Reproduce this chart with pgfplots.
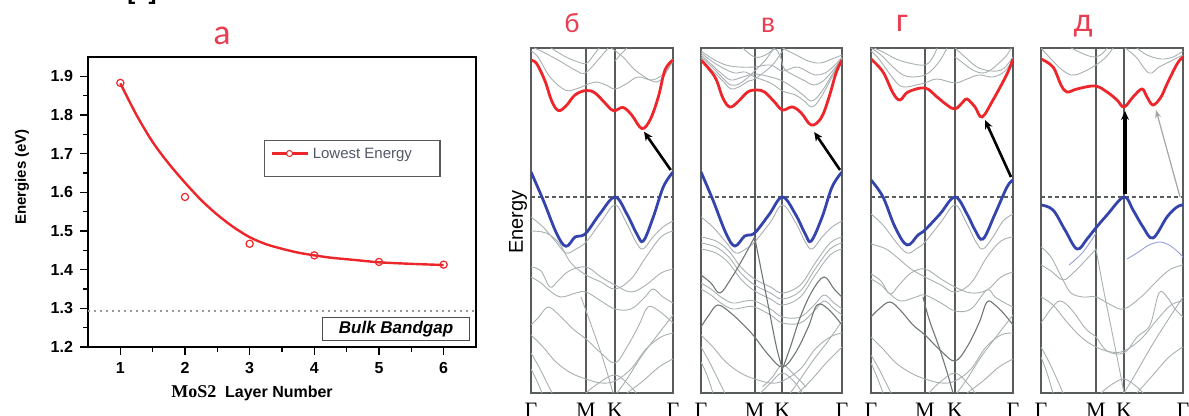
\documentclass[border=0pt]{standalone}
\usepackage{fontspec}
\setmainfont{Liberation Sans}
\newfontfamily\serif{Liberation Serif}
\newfontfamily\carl{Carlito}
\usepackage{pgfplots}
\pgfplotsset{compat=1.18}
\usetikzlibrary{arrows.meta}

\definecolor{cbred}{RGB}{236,38,42}
\definecolor{vbblue}{RGB}{52,68,172}
\definecolor{frame}{RGB}{88,92,92}
\definecolor{gcol}{RGB}{168,176,178}
\definecolor{gdark}{RGB}{112,118,118}
\definecolor{ttl}{RGB}{232,62,82}
\definecolor{lblue}{RGB}{150,160,215}
\definecolor{legtxt}{RGB}{82,88,104}

\pgfplotsset{
  bandaxis/.style={scale only axis, width=71pt, height=172.5pt,
    xmin=0, xmax=142, ymin=-196, ymax=149,
    axis line style={draw=frame, line width=1pt},
    ytick=\empty, major tick length=0pt,
    xmajorgrids, grid style={draw=frame, line width=1pt},
    xticklabels={Γ,M,K,Γ},
    xticklabel style={font=\serif\fontsize{11}{11}\selectfont, yshift=-1.5pt}},
  gl/.style={draw=gcol, line width=0.45pt, smooth, tension=0.6},
  gd/.style={draw=gdark, line width=0.55pt, smooth, tension=0.6},
  cb/.style={draw=cbred, line width=1.4pt, smooth, tension=0.6},
  vb/.style={draw=vbblue, line width=1.4pt, smooth, tension=0.6},
  ef/.style={draw=frame, line width=0.8pt, dash pattern=on 2pt off 1.5pt},
}
\tikzset{trans/.style={draw=black, line width=1.3pt, -{Stealth[length=4.5pt,width=4pt]}}}

\begin{document}
\begin{tikzpicture}
\useasboundingbox (0,0) rectangle (594.5pt,208pt);
\node[anchor=base, font=\bfseries\fontsize{12}{12}\selectfont, inner sep=0pt] at (71pt,208pt) {[6]};

% ---------------- panel a ----------------
\begin{axis}[at={(44pt,34.5pt)}, anchor=south west,
  scale only axis, width=194pt, height=145pt,
  xmin=0.5, xmax=6.5, ymin=1.2, ymax=1.95,
  xtick={1,2,3,4,5,6}, ytick={1.2,1.3,...,1.9},
  minor tick num=1,
  axis line style={line width=1.2pt},
  tick style={line width=0.8pt, black},
  major tick length=4pt, minor tick length=2.5pt,
  tick align=outside, xtick pos=bottom, ytick pos=left,
  ticklabel style={font=\bfseries\fontsize{8}{8}\selectfont},
  /pgf/number format/assume math mode=true,
  yticklabel style={/pgf/number format/fixed, /pgf/number format/precision=1, /pgf/number format/fixed zerofill},
  legend style={at={(0.453,0.714)}, anchor=north west, draw=gray!70!black, line width=0.6pt,
    font=\fontsize{7.5}{8}\selectfont, text=legtxt, inner xsep=3pt, inner ysep=2pt,
    nodes={text depth=5pt}},
  legend cell align=left,
]
\addplot[draw=cbred, line width=1.2pt, smooth, forget plot] coordinates {
  (1,1.882) (1.25,1.800) (1.5,1.730) (1.75,1.674) (2,1.625) (2.25,1.580) (2.5,1.542)
  (2.75,1.510) (3,1.484) (3.25,1.466) (3.5,1.454) (3.75,1.444) (4,1.437) (4.25,1.431)
  (4.5,1.427) (4.75,1.423) (5,1.419) (5.5,1.415) (6,1.412)
};
\addplot[draw=cbred, only marks, mark=o, mark size=1.8pt, mark options={line width=0.6pt, fill=white},
  legend image code/.code={\draw[cbred, line width=1.2pt] (0pt,2.6pt) -- (18pt,2.6pt);
    \draw[cbred, line width=0.5pt, fill=white] (9pt,2.6pt) circle (1.5pt);}] coordinates {
  (1,1.883) (2,1.588) (3,1.467) (4,1.437) (5,1.420) (6,1.413)
};
\addlegendentry{Lowest Energy\rule{9pt}{0pt}}
\addplot[draw=gray!80, line width=0.8pt, dash pattern=on 1.2pt off 1.8pt, forget plot]
  coordinates {(0.5,1.293) (6.5,1.293)};
\node[draw=gray!60!black, line width=0.6pt, anchor=south east, minimum width=73.5pt,
  minimum height=11.5pt, inner sep=0pt, font=\bfseries\itshape\fontsize{8.5}{9}\selectfont]
  at (rel axis cs:0.985,0.021) {Bulk Bandgap};
\end{axis}
\node[rotate=90, font=\bfseries\fontsize{7.5}{8}\selectfont] at (11pt,119.5pt) {Energies (eV)};
\node[font=\bfseries\fontsize{8}{9}\selectfont] at (126pt,11.5pt) {{\serif\fontsize{9}{9}\selectfont MoS2}\ \ Layer Number};

% ---------------- panel б ----------------
\begin{axis}[bandaxis, at={(265.5pt,11.5pt)}, anchor=south west, xtick={0,55,84,142}]
\addplot[gl] coordinates {(0,146) (7,140) (19,120) (34,107) (45,108) (55,112) (65,115) (75,112) (84,108) (95,113) (107,120) (121,117) (134,124) (142,136)};
\addplot[gl] coordinates {(3,149) (10,146) (27,137) (44,127) (54,124) (67,137) (77,149)};
\addplot[gl] coordinates {(80,149) (92,140) (104,127) (121,116) (130,117) (137,128) (142,138)};
\addplot[gl] coordinates {(84,136) (90,143) (96,149)};
\addplot[gl] coordinates {(20,149) (35,140) (50,134) (56,134) (62,141) (68,149)};
\addplot[gl] coordinates {(0,-20) (12,-30) (25,-45) (35,-56) (45,-52) (55,-45) (70,-25) (84,-8) (95,-25) (105,-45) (112,-52) (122,-40) (132,-30) (142,-24)};
\addplot[gl] coordinates {(0,-34) (15,-36) (28,-46) (40,-66) (55,-78) (70,-85) (84,-92) (100,-82) (115,-60) (130,-40) (142,-34)};
\addplot[gl] coordinates {(0,-70) (10,-74) (19,-90) (27,-84) (38,-74) (55,-70) (70,-80) (84,-88) (100,-95) (115,-88) (130,-76) (142,-72)};
\addplot[gl] coordinates {(0,-80) (10,-86) (19,-94) (30,-100) (45,-96) (55,-95) (70,-104) (84,-112) (100,-112) (114,-100) (122,-92) (132,-100) (142,-106)};
\addplot[gl] coordinates {(0,-128) (8,-120) (17,-110) (28,-118) (42,-132) (55,-142) (70,-156) (84,-166) (96,-150) (108,-128) (117,-110) (128,-114) (142,-126)};
\addplot[gl] coordinates {(0,-138) (12,-150) (25,-165) (40,-176) (55,-182) (70,-186) (84,-184) (100,-172) (115,-152) (130,-140) (142,-136)};
\addplot[gl] coordinates {(0,-156) (8,-170) (16,-186) (21,-196)};
\addplot[gl] coordinates {(50,-100) (58,-122) (68,-150) (76,-175) (82,-196)};
\addplot[gl] coordinates {(86,-196) (96,-182) (110,-160) (125,-140) (142,-118)};
\addplot[gl] coordinates {(0,-172) (5,-182) (11,-196)};
\addplot[gl] coordinates {(96,-196) (112,-184) (128,-170) (142,-162)};
\addplot[gl] coordinates {(55,-196) (65,-188) (84,-178) (100,-190) (105,-196)};
\addplot[ef] coordinates {(0,0) (142,0)};
\addplot[cb] coordinates {(0,136.7) (5.7,133.3) (14,116) (20.7,96) (27.3,86.5) (35,91) (44,102) (55,106.5) (64,104) (74,94) (82.5,86.3) (92,89.5) (100.7,82) (110.7,68.5) (119,77) (127.3,100) (134,127) (142,137)};
\addplot[vb] coordinates {(0,25) (12.3,-3.3) (25.7,-36.7) (35,-49.3) (44,-40) (50,-39) (56,-35) (69,-16.7) (84,0) (95.7,-16.7) (105.7,-36.7) (112.3,-44) (122.3,-20) (132.3,10) (142,25)};
\draw[trans] (axis cs:139.7,27) -- (axis cs:113,65.3);
\end{axis}
\node[rotate=90, font=\fontsize{10}{10}\selectfont] at (259pt,97pt) {Energy};

% ---------------- panel в ----------------
\begin{axis}[bandaxis, at={(350.5pt,11.5pt)}, anchor=south west, width=70.5pt, xtick={0,54,82,142}]
\addplot[gl] coordinates {(0,140) (10,131) (20,121) (30,112) (40,114) (54,126) (65,137) (74,148) (80,140) (84,128) (95,121) (105,116) (113,112) (123,116) (134,128) (142,139)};
\addplot[gl] coordinates {(0,142) (10,133) (20,124) (30,117) (42,120) (54,123) (70,120) (82,116) (95,108) (104,101) (112,96) (122,106) (133,124) (142,139)};
\addplot[gl] coordinates {(0,144) (12,135) (24,128) (34,124) (45,125) (54,120) (70,114) (82,106) (95,102) (104,96) (112,90) (121,100) (133,122) (142,138)};
\addplot[gl] coordinates {(0,146) (12,138) (25,132) (38,130) (54,130) (70,132) (82,126) (96,130) (106,126) (115,122) (125,124) (135,132) (142,140)};
\addplot[gl] coordinates {(42,149) (54,140) (65,142) (74,149)};
\addplot[gl] coordinates {(82,149) (96,142) (108,136) (120,134) (132,138) (142,142)};
\addplot[gl] coordinates {(0,138) (8,130) (16,122) (24,114) (30,108) (38,110) (48,116) (54,118) (70,130) (78,140) (84,149)};
\addplot[gl] coordinates {(0,-20) (12,-30) (25,-45) (35,-56) (45,-52) (54,-45) (70,-25) (82,-8) (95,-25) (105,-45) (112,-52) (122,-40) (132,-30) (142,-24)};
\addplot[gl] coordinates {(0,-40) (15,-44) (28,-54) (40,-70) (54,-82) (70,-90) (82,-96) (100,-88) (115,-66) (130,-46) (142,-40)};
\addplot[gl] coordinates {(0,-46) (15,-50) (28,-60) (40,-76) (54,-88) (70,-96) (82,-102) (100,-94) (115,-72) (130,-52) (142,-46)};
\addplot[gl] coordinates {(0,-52) (15,-56) (28,-66) (40,-82) (54,-94) (70,-102) (82,-108) (100,-100) (115,-78) (130,-58) (142,-52)};
\addplot[gl] coordinates {(0,-86) (10,-92) (20,-100) (32,-106) (45,-104) (54,-104) (70,-112) (82,-120) (100,-120) (114,-108) (124,-98) (134,-106) (142,-112)};
\addplot[gl] coordinates {(0,-92) (10,-98) (20,-106) (32,-112) (45,-110) (54,-110) (70,-118) (82,-126) (100,-126) (114,-114) (124,-104) (134,-112) (142,-118)};
\addplot[gl] coordinates {(0,-138) (12,-150) (25,-165) (40,-176) (54,-182) (70,-186) (82,-184) (100,-172) (115,-152) (130,-140) (142,-136)};
\addplot[gl] coordinates {(0,-150) (8,-164) (16,-180) (24,-196)};
\addplot[gl] coordinates {(0,-165) (6,-178) (12,-196)};
\addplot[gl] coordinates {(90,-196) (100,-182) (114,-162) (128,-144) (142,-124)};
\addplot[gl] coordinates {(98,-196) (112,-182) (126,-166) (142,-150)};
\addplot[gl] coordinates {(60,-196) (70,-186) (82,-176) (95,-186) (102,-196)};
\addplot[gl] coordinates {(62,-190) (72,-180) (82,-168) (94,-178) (106,-190)};
\addplot[gd] coordinates {(0,-78) (10,-86) (19,-96) (30,-82) (42,-62) (54,-40)};
\addplot[gd] coordinates {(0,-130) (8,-118) (17,-108) (30,-116) (45,-130) (54,-140) (68,-158) (82,-170) (95,-156) (108,-130) (117,-108) (128,-112) (142,-128)};
\addplot[gd] coordinates {(54,-40) (60,-70) (68,-110) (76,-150) (82,-172)};
\addplot[gd] coordinates {(82,-172) (90,-150) (100,-120) (112,-94) (124,-80) (134,-92) (142,-100)};
\addplot[ef] coordinates {(0,0) (142,0)};
\addplot[cb] coordinates {(0,137) (14,120) (22,99) (29,90) (37,95) (47,105) (56,107) (64,105) (74,95) (82,87) (92,90) (101,84) (111,72) (121,79) (129,100) (136,124) (142,137)};
\addplot[vb] coordinates {(0,25) (12,-3) (25,-36) (34,-49) (44,-39) (50,-38) (56,-34) (69,-17) (82,0) (95,-17) (105,-37) (111,-44) (122,-20) (132,10) (142,25)};
\draw[trans] (axis cs:140,27) -- (axis cs:114,65);
\end{axis}

% ---------------- panel г ----------------
\begin{axis}[bandaxis, at={(435.5pt,11.5pt)}, anchor=south west, xtick={0,54,84,142}]
\addplot[gl] coordinates {(0,146) (8,138) (18,124) (28,112) (36,110) (45,112) (54,114) (66,118) (84,114) (96,118) (108,122) (122,120) (134,126) (142,138)};
\addplot[gl] coordinates {(0,149) (10,142) (22,130) (32,122) (42,120) (54,122) (62,128) (70,138) (76,149)};
\addplot[gl] coordinates {(3,149) (12,145) (25,138) (38,134) (54,132) (62,140) (66,149)};
\addplot[gl] coordinates {(84,149) (94,140) (106,130) (120,126) (132,128) (142,140)};
\addplot[gl] coordinates {(84,140) (92,134) (100,128) (110,124) (118,126) (128,134) (136,142) (140,149)};
\addplot[gl] coordinates {(0,-17) (12,-28) (25,-45) (36,-56) (45,-52) (54,-45) (70,-25) (84,-8) (95,-25) (105,-45) (112,-52) (122,-40) (132,-24) (142,-17)};
\addplot[gl] coordinates {(0,-47) (15,-52) (28,-62) (40,-72) (54,-80) (70,-88) (84,-95) (100,-86) (116,-60) (130,-44) (142,-40)};
\addplot[gl] coordinates {(0,-77) (10,-84) (19,-97) (28,-88) (40,-76) (54,-72) (70,-82) (84,-90) (100,-96) (116,-93) (130,-80) (142,-75)};
\addplot[gl] coordinates {(0,-82) (10,-88) (19,-97) (30,-104) (45,-100) (54,-98) (70,-106) (84,-114) (100,-112) (116,-93) (124,-100) (134,-106) (142,-110)};
\addplot[gd] coordinates {(0,-120) (8,-112) (19,-105) (30,-114) (42,-128) (54,-138) (70,-154) (84,-164) (96,-150) (108,-126) (116,-105) (124,-108) (134,-118) (142,-128)};
\addplot[gl] coordinates {(0,-140) (12,-152) (25,-166) (40,-176) (54,-182) (70,-186) (84,-184) (100,-172) (115,-150) (130,-138) (142,-136)};
\addplot[gl] coordinates {(0,-158) (8,-172) (16,-188) (20,-196)};
\addplot[gl] coordinates {(0,-166) (6,-180) (12,-196)};
\addplot[gd] coordinates {(52,-100) (58,-122) (68,-150) (76,-175) (82,-196)};
\addplot[gl] coordinates {(86,-196) (96,-182) (110,-160) (125,-140) (142,-118)};
\addplot[gl] coordinates {(96,-196) (112,-184) (128,-170) (142,-162)};
\addplot[gl] coordinates {(58,-196) (68,-186) (84,-176) (98,-188) (104,-196)};
\addplot[ef] coordinates {(0,0) (142,0)};
\addplot[cb] coordinates {(0,138) (12,125) (22,104) (29,97) (37,105) (54,109) (66,100) (76,92) (84,88) (92,95) (96,98) (104,90) (111,80) (122,97) (136,123) (142,138)};
\addplot[vb] coordinates {(0,17) (12,0) (24,-30) (36,-48) (47,-38) (54,-33) (69,-17) (84,0) (96,-17) (104,-33) (112,-42) (124,-17) (136,10) (142,17)};
\draw[trans] (axis cs:140,20) -- (axis cs:114,77);
\end{axis}

% ---------------- panel д ----------------
\begin{axis}[bandaxis, at={(520.5pt,11.5pt)}, anchor=south west, xtick={0,55,83,142}]
\addplot[gl] coordinates {(0,149) (10,138) (20,128) (30,122) (40,124) (55,132) (65,140) (72,149)};
\addplot[gl] coordinates {(84,149) (95,140) (108,124) (118,130) (130,136) (142,142)};
\addplot[gl] coordinates {(30,149) (45,142) (55,140) (62,144) (66,149)};
\addplot[gl] coordinates {(96,149) (106,142) (120,138) (132,140) (142,146)};
\addplot[draw=lblue, line width=0.45pt, smooth] coordinates {(28,-68) (34,-63) (42,-55) (50,-44) (55,-36)};
\addplot[draw=lblue, line width=0.45pt, smooth] coordinates {(86,-62) (96,-56) (108,-48) (119,-45) (128,-48) (136,-54) (142,-60)};
\addplot[gl] coordinates {(0,-50) (10,-60) (22,-83) (30,-96) (42,-100) (55,-100) (70,-108) (83,-112) (100,-100) (112,-88) (120,-80) (130,-72) (142,-68)};
\addplot[gl] coordinates {(0,-68) (10,-74) (22,-83) (32,-76) (44,-64) (55,-52)};
\addplot[gl] coordinates {(0,-126) (10,-112) (19,-104) (30,-112) (45,-132) (55,-140) (66,-154) (83,-156) (96,-140) (109,-128) (118,-96) (126,-100) (134,-112) (142,-120)};
\addplot[gl] coordinates {(0,-100) (12,-108) (25,-124) (40,-140) (55,-150) (70,-155) (83,-154) (100,-142) (115,-124) (130,-108) (142,-104)};
\addplot[gl] coordinates {(55,-52) (62,-90) (70,-130) (78,-170) (83,-196)};
\addplot[gl] coordinates {(83,-196) (95,-176) (110,-150) (125,-126) (142,-100)};
\addplot[gl] coordinates {(0,-150) (8,-165) (15,-180) (22,-196)};
\addplot[gl] coordinates {(0,-160) (6,-176) (12,-196)};
\addplot[gl] coordinates {(96,-196) (112,-178) (128,-160) (142,-150)};
\addplot[gl] coordinates {(60,-196) (70,-188) (83,-182) (96,-190) (102,-196)};
\addplot[ef] coordinates {(0,0) (142,0)};
\addplot[cb] coordinates {(0,138) (12,130) (20,112) (26,105) (36,108) (54,111) (66,105) (76,97) (83,90) (92,100) (101,108) (106,100) (112,92) (120,100) (126,113) (136,133) (142,140)};
\addplot[vb] coordinates {(0,-8) (12,-13) (24,-33) (36,-52) (46,-42) (54,-32) (66,-18) (83,0) (92,-13) (102,-30) (112,-41) (126,-20) (136,-10) (142,-8)};
\draw[trans, line width=1.8pt] (axis cs:84,3) -- (axis cs:84,86);
\draw[draw=gray!70, line width=0.6pt, -{Stealth[length=4pt,width=3pt]}] (axis cs:139,0) -- (axis cs:115,87);
\end{axis}

% ---------------- titles ----------------
\node[text=ttl, font=\carl\fontsize{18}{18}\selectfont] at (111pt,190pt) {а};
\node[text=ttl, font=\carl\fontsize{14}{14}\selectfont] at (286pt,196.5pt) {б};
\node[text=ttl, font=\carl\fontsize{15}{15}\selectfont] at (384pt,195.5pt) {в};
\node[text=ttl, font=\carl\fontsize{17}{17}\selectfont] at (451pt,196.5pt) {г};
\node[text=ttl, font=\carl\fontsize{17}{17}\selectfont] at (541.5pt,195pt) {д};
\end{tikzpicture}
\end{document}
